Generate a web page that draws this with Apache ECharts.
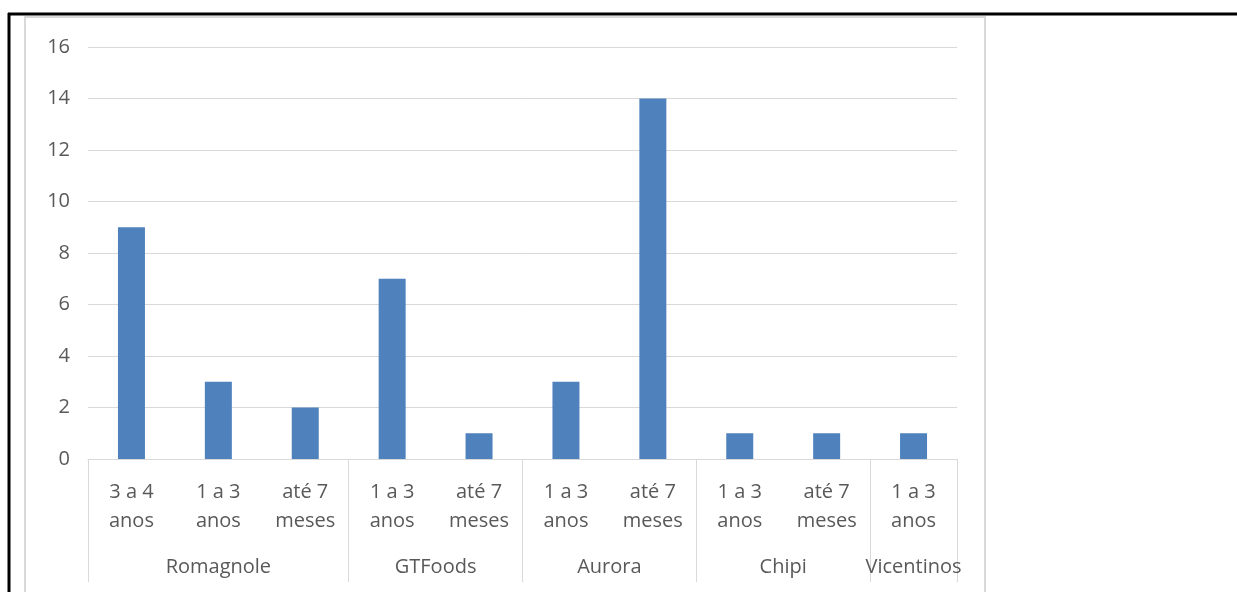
<!DOCTYPE html>
<html>
<head>
    <meta charset="utf-8">
    <title>ECharts</title>
    <script src="https://cdn.jsdelivr.net/npm/echarts@6/dist/echarts.min.js"></script>
    <style>
        html, body { margin: 0; padding: 0; background: #fff; }
    </style>
</head>
<body>
    <div id="main" style="width: 1237px;height:592px;"></div>
    <script>
        // dados
        var categorias = ['3 a 4\nanos', '1 a 3\nanos', 'até 7\nmeses', '1 a 3\nanos', 'até 7\nmeses',
            '1 a 3\nanos', 'até 7\nmeses', '1 a 3\nanos', 'até 7\nmeses', '1 a 3\nanos'];
        var valores = [9, 3, 2, 7, 1, 3, 14, 1, 1, 1];
        var grupos = ['Romagnole', 'GTFoods', 'Aurora', 'Chipi', 'Vicentinos'];
        var tamanhoGrupos = [3, 2, 2, 2, 1];

        // limites e centros dos grupos (em unidades de categoria)
        var limites = [0];
        var centros = [];
        var acc = 0;
        for (var i = 0; i < tamanhoGrupos.length; i++) {
            centros.push(acc + tamanhoGrupos[i] / 2);
            acc += tamanhoGrupos[i];
            limites.push(acc);
        }

        var corTexto = '#595959';
        var fonte = '"Open Sans", "Liberation Sans", sans-serif';

        var myChart = echarts.init(document.getElementById('main'));

        var option = {
            animation: false,
            grid: { left: 88, right: 280, top: 47, bottom: 133 },
            graphic: [
                { type: 'rect', shape: { x: 25, y: 17, width: 960, height: 600 },
                  style: { fill: 'none', stroke: '#d9d9d9', lineWidth: 2 } },
                { type: 'line', shape: { x1: 8, y1: 14, x2: 1237, y2: 14 },
                  style: { stroke: '#000', lineWidth: 3 } },
                { type: 'line', shape: { x1: 9, y1: 13, x2: 9, y2: 592 },
                  style: { stroke: '#000', lineWidth: 3 } }
            ],
            xAxis: [{
                type: 'category',
                data: categorias,
                axisLine: { lineStyle: { color: '#d9d9d9', width: 1 } },
                axisTick: { show: false },
                axisLabel: {
                    interval: 0,
                    color: corTexto,
                    fontFamily: fonte,
                    fontSize: 20,
                    lineHeight: 29,
                    margin: 19
                }
            }, {
                type: 'value',
                position: 'bottom',
                min: 0,
                max: categorias.length,
                axisLine: { show: false },
                splitLine: { show: false },
                axisTick: {
                    show: true,
                    customValues: limites,
                    length: 123,
                    lineStyle: { color: '#d9d9d9' }
                },
                axisLabel: {
                    customValues: centros,
                    color: corTexto,
                    fontFamily: fonte,
                    fontSize: 20,
                    margin: 98,
                    showMinLabel: true,
                    showMaxLabel: true,
                    formatter: function (v) {
                        var idx = centros.indexOf(v);
                        return idx >= 0 ? grupos[idx] : '';
                    }
                }
            }],
            yAxis: {
                type: 'value',
                min: 0,
                max: 16,
                interval: 2,
                axisLine: { show: false },
                axisTick: { show: false },
                splitLine: { lineStyle: { color: '#d9d9d9' } },
                axisLabel: {
                    color: corTexto,
                    fontFamily: fonte,
                    fontSize: 20,
                    margin: 18
                }
            },
            series: [{
                type: 'bar',
                data: valores,
                barWidth: 27,
                itemStyle: { color: '#4f81bd' }
            }]
        };

        myChart.setOption(option);
    </script>
</body>
</html>
